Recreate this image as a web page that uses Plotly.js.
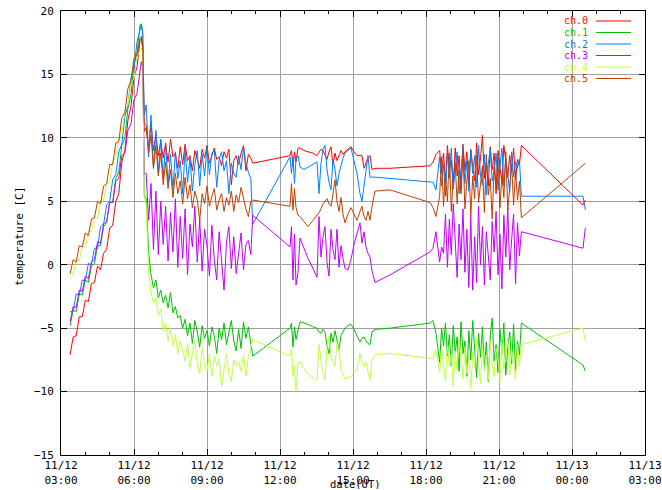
<!DOCTYPE html>
<html>
<head>
<meta charset="utf-8">
<script src="https://cdn.plot.ly/plotly-3.0.1.min.js"></script>
<style>
html,body{margin:0;padding:0;background:#fff;}
#chart{width:662px;height:490px;}
</style>
</head>
<body>
<div id="chart"></div>
<script>
// time of each sample, hours since 11/12 00:00 (UT)
const hours = [
  // warm-up ramp
  3.375,3.5,3.625,3.75,3.875,4.0,4.125,4.25,4.375,4.5,4.625,4.75,4.875,5.0,5.125,5.25,5.375,5.5,5.625,5.75,5.875,6.0,6.125,6.25,
  // peak and drop
  6.30,6.36,6.42,
  // dense decay
  6.5,6.6,6.7,6.8,6.9,7.0,7.1,7.2,7.3,7.4,7.5,7.6,7.7,7.8,7.9,8.0,8.1,8.2,8.3,8.4,8.5,8.6,8.7,8.8,8.9,9.0,9.1,9.2,9.3,9.4,9.5,9.6,9.7,9.8,9.9,10.0,10.1,10.2,10.3,10.4,10.5,10.6,10.7,10.8,
  10.88,
  // sparse midday
  12.411,12.473,12.534,12.596,12.658,12.740,12.822,12.986,13.151,13.356,13.521,13.603,13.685,13.767,13.849,13.932,14.014,14.096,14.178,14.260,14.342,14.425,14.507,14.589,14.671,14.795,14.918,15.041,15.164,15.288,15.370,15.452,15.534,15.616,15.699,15.781,15.904,16.521,18.164,
  18.29,18.41,
  // dense evening
  18.56,18.64,18.72,18.80,18.88,18.96,19.04,19.12,19.20,19.28,19.36,19.44,19.52,19.60,19.68,19.76,19.84,19.92,20.00,20.08,20.16,20.24,20.32,20.40,20.48,20.56,20.64,20.72,20.80,20.88,20.96,21.04,21.12,21.20,21.28,21.36,21.44,21.52,21.60,21.68,21.76,21.84,21.92,
  // last samples
  24.45,24.55
];

const ch0 = [
  -7.1,-5.7,-5.6,-4.1,-4.1,-2.8,-2.9,-1.5,-1.4,-0.1,-0.4,0.9,1.2,2.9,3.1,5.0,5.6,8.1,9.0,11.4,12.5,14.8,15.6,17.7,
  17.8,17.0,10.5,
  10.8,9.2,11.2,9.0,10.3,8.6,9.8,8.4,9.6,8.1,9.9,8.5,8.8,7.6,9.3,7.9,9.5,8.2,8.6,7.4,9.0,8.3,7.6,9.1,8.4,9.4,8.0,8.6,9.2,8.3,8.5,7.8,8.9,8.4,9.1,6.3,8.2,8.6,7.9,8.8,9.4,7.4,8.7,8.4,
  8.0,
  8.6,9.0,7.7,8.9,8.1,9.2,9.2,9.0,8.9,8.8,8.6,8.9,9.1,9.0,8.6,8.3,8.9,9.3,7.9,8.8,8.2,8.7,9.0,8.7,8.9,9.1,9.3,8.9,8.6,8.6,8.6,7.6,8.0,8.4,8.6,7.5,7.6,7.6,7.8,
  8.1,8.7,
  9.0,7.2,8.8,6.5,9.4,7.6,8.2,6.0,9.2,7.0,8.6,5.8,9.5,7.4,8.9,6.3,9.1,7.8,6.6,9.6,7.1,8.4,10.2,6.8,8.0,6.2,9.3,7.5,8.8,5.6,9.0,7.7,6.4,9.4,8.1,6.9,8.6,7.3,9.2,6.7,8.3,7.9,9.4,
  4.7,5.1
];
const ch1 = [
  -4.8,-3.6,-3.7,-2.3,-2.4,-1.2,-1.4,-0.1,0.1,1.5,1.5,3.0,3.3,4.9,4.9,6.8,7.3,9.4,10.0,12.3,13.4,15.8,16.7,18.9,
  19.0,18.4,5.5,
  5.2,1.0,-0.8,-1.8,-1.2,-2.6,-2.0,-3.0,-2.4,-3.4,-2.2,-3.8,-3.3,-4.2,-4.0,-5.0,-4.3,-5.6,-4.6,-6.2,-4.4,-5.3,-6.5,-4.8,-5.8,-5.2,-6.4,-4.9,-5.6,-7.0,-5.0,-5.9,-4.6,-6.3,-5.2,-4.4,-6.0,-6.8,-5.1,-6.6,-4.5,-5.8,-4.9,-6.2,
  -7.2,
  -5.0,-4.6,-6.5,-4.9,-5.9,-5.2,-4.5,-4.6,-4.7,-4.9,-5.0,-5.3,-5.4,-5.1,-5.3,-6.4,-7.0,-5.4,-6.1,-5.2,-6.0,-6.7,-5.6,-5.3,-5.0,-4.8,-4.7,-5.1,-5.6,-6.1,-5.8,-5.7,-6.0,-6.2,-6.3,-5.3,-5.1,-5.0,-4.6,
  -4.4,-5.4,
  -7.7,-5.0,-6.4,-4.6,-7.2,-5.5,-8.0,-4.8,-6.9,-5.7,-8.4,-4.5,-7.0,-6.0,-8.8,-5.2,-7.5,-4.4,-6.6,-8.9,-5.4,-7.3,-4.9,-8.2,-6.1,-9.2,-5.6,-4.2,-7.6,-6.3,-8.5,-5.1,-7.0,-4.6,-8.7,-6.4,-5.3,-7.8,-4.7,-8.3,-6.0,-7.1,-4.6,
  -7.9,-8.4
];
const ch2 = [
  -3.7,-3.7,-2.3,-2.4,-1.2,-1.3,0.1,0.0,1.3,1.3,3.0,3.2,4.7,5.0,6.7,7.1,8.9,9.5,11.7,12.5,14.7,15.4,17.6,18.6,
  18.9,18.1,11.8,
  12.6,8.5,11.8,7.6,10.6,7.2,9.9,6.8,9.5,6.4,8.7,5.9,8.9,6.8,8.2,5.6,9.1,6.5,8.4,5.8,7.9,9.0,6.2,8.7,7.0,9.2,7.1,8.8,9.0,6.1,8.3,8.9,7.4,8.2,5.6,8.0,7.2,6.9,8.6,7.5,9.3,8.0,7.3,6.8,
  3.2,
  8.5,7.2,8.5,6.4,8.3,8.6,7.7,7.5,7.7,7.9,8.1,5.6,8.0,9.1,9.4,7.5,6.5,5.9,8.3,7.5,6.2,7.2,7.9,8.4,8.8,9.0,9.2,8.2,7.2,5.6,5.0,6.2,7.5,8.6,6.9,6.9,6.9,6.8,6.5,
  6.5,5.9,
  8.5,6.2,7.9,5.4,8.8,6.8,9.2,6.0,7.6,8.9,5.6,7.8,9.3,6.4,8.2,5.8,9.0,7.2,8.6,6.1,9.4,7.0,6.3,8.7,5.5,8.0,9.1,6.6,7.4,8.8,5.9,7.7,9.2,6.2,8.4,7.1,5.7,8.9,6.9,8.1,7.6,8.3,5.4,
  5.4,4.3
];
const ch3 = [
  -4.5,-3.3,-3.4,-2.0,-2.1,-0.9,-1.1,0.2,0.4,1.8,1.7,3.2,3.4,4.9,4.9,6.6,6.8,8.6,8.8,10.6,11.1,13.0,13.5,15.5,
  16.0,15.5,7.2,
  7.2,3.5,6.4,1.2,5.8,0.8,5.0,1.6,4.6,0.3,4.1,1.0,5.2,-0.2,3.8,0.5,4.4,-0.8,3.2,1.4,4.6,0.2,3.6,-0.5,2.8,1.5,-0.9,3.1,0.4,-1.2,2.6,0.0,-2.0,1.8,3.0,-0.3,2.2,-0.7,1.0,2.5,-0.4,1.6,1.9,0.8,
  3.9,
  1.4,3.0,-1.2,2.4,-1.6,-0.6,2.1,1.3,0.5,-0.3,-1.0,3.8,0.6,2.2,3.0,0.2,-0.9,2.8,1.2,0.4,2.8,-0.2,1.5,0.5,-0.3,-0.4,0.4,1.6,2.5,3.3,1.7,2.6,1.4,0.9,0.6,-0.5,-1.4,-0.8,1.0,
  1.3,2.6,
  0.2,1.4,0.9,4.0,-0.2,3.6,0.8,4.8,1.5,-1.0,3.2,0.4,4.4,-0.6,2.8,-1.8,3.8,-2.0,2.2,-1.4,4.6,0.0,3.0,-1.6,2.6,0.5,-1.2,3.4,1.0,4.2,-0.8,2.4,-1.9,3.9,0.6,4.5,-0.4,2.0,4.0,-1.5,3.3,0.7,2.6,
  1.3,2.9
];
const ch4 = [
  -0.7,-0.8,0.5,0.3,1.5,1.3,2.7,2.6,3.8,3.6,5.1,5.1,6.4,6.5,8.2,8.4,10.0,10.3,12.2,12.6,14.3,14.7,16.4,17.0,
  17.1,16.6,5.2,
  4.8,-0.5,-2.2,-3.0,-2.6,-4.0,-3.5,-5.2,-4.6,-6.0,-5.0,-6.4,-5.5,-7.0,-6.0,-6.8,-7.6,-6.2,-8.2,-7.0,-6.0,-7.8,-8.6,-6.5,-7.9,-8.4,-7.0,-8.8,-7.2,-8.0,-7.4,-9.6,-8.2,-7.0,-8.6,-9.2,-7.5,-8.0,-7.6,-8.4,-7.1,-8.8,-7.2,-6.6,
  -5.9,
  -7.2,-6.6,-8.8,-8.0,-10.0,-7.7,-7.6,-8.2,-8.6,-8.9,-9.1,-6.3,-7.6,-8.4,-9.1,-6.5,-5.6,-7.3,-7.7,-8.0,-6.2,-6.5,-8.3,-8.7,-9.0,-8.9,-8.8,-8.5,-8.3,-7.0,-7.7,-8.0,-7.7,-8.4,-9.1,-7.5,-7.1,-7.0,-7.4,
  -7.4,-6.7,
  -8.5,-6.6,-7.8,-9.2,-6.2,-8.0,-7.0,-9.6,-6.8,-8.3,-5.9,-7.6,-9.0,-6.5,-8.6,-7.2,-9.8,-6.9,-8.1,-5.8,-7.5,-9.4,-6.4,-8.4,-7.1,-9.1,-6.0,-7.9,-8.8,-6.6,-7.3,-9.3,-6.1,-8.2,-7.4,-5.7,-8.7,-6.8,-7.7,-9.0,-6.3,-8.0,-6.3,
  -5.0,-6.0
];
const ch5 = [
  -0.7,0.4,0.2,1.5,1.4,2.5,2.3,3.6,3.7,5.0,4.8,6.2,6.4,7.9,7.9,9.6,9.7,11.6,12.0,13.9,14.5,16.3,16.5,17.9,
  18.0,17.2,11.2,
  11.0,8.8,10.2,7.6,9.4,7.0,8.8,6.3,8.1,6.0,7.5,5.3,7.2,5.6,6.6,4.8,6.9,5.2,6.3,4.5,5.8,5.1,3.5,5.6,4.8,6.2,4.6,5.4,6.0,4.3,5.1,5.6,4.2,5.3,4.7,5.8,4.2,5.5,4.9,6.1,5.1,4.4,3.8,5.0,
  5.1,
  4.6,6.4,4.3,6.0,4.5,3.9,3.8,3.4,3.0,3.5,3.9,4.1,4.4,4.8,5.0,5.2,4.8,4.6,5.6,6.7,5.0,4.2,5.3,4.0,3.3,4.0,4.5,4.0,3.5,4.2,4.6,3.8,3.5,4.2,3.5,4.6,5.8,5.9,4.9,
  4.5,3.8,
  5.4,8.5,4.6,7.2,5.0,8.8,4.2,6.9,8.0,4.8,7.5,5.6,8.9,4.4,6.6,8.2,3.8,7.0,5.2,8.6,4.9,6.4,7.8,4.1,8.7,5.5,6.8,3.6,7.7,5.9,8.4,4.5,7.1,5.3,8.9,4.3,6.2,7.9,4.7,7.4,5.1,6.6,3.7,
  7.9,8.0
];

const channelNames = ["ch.0","ch.1","ch.2","ch.3","ch.4","ch.5"];
const channelColors = ["#ff0000","#00c000","#0080ff","#c000ff","#c0ff40","#c04000"];
const series = [ch0,ch1,ch2,ch3,ch4,ch5];

const xTickVals = [3,6,9,12,15,18,21,24,27];
const xTickText = ["11/12<br>03:00","11/12<br>06:00","11/12<br>09:00","11/12<br>12:00","11/12<br>15:00","11/12<br>18:00","11/12<br>21:00","11/13<br>00:00","11/13<br>03:00"];
const yTickVals = [-15,-10,-5,0,5,10,15,20];

const FONT = "DejaVu Sans Mono, Liberation Mono, monospace";

const traces = series.map((ys,i)=>({
  x: hours, y: ys, type:"scatter", mode:"lines", name: channelNames[i],
  line:{color:channelColors[i], width:1}, hoverinfo:"skip"
}));

// legend drawn gnuplot-style: label then line sample
const L = 61, R = 645, T = 11, B = 455;
const px2x = p => (p-L)/(R-L);
const py2y = p => (B-p)/(B-T);
const LEG_Y0 = 21, LEG_STEP = 11.5;
const annotations = [];
const shapes = [];
channelNames.forEach((n,i)=>{
  const py = LEG_Y0 + i*LEG_STEP;
  annotations.push({xref:"paper",yref:"paper",x:px2x(589),y:py2y(py),xanchor:"right",yanchor:"middle",
    text:n,showarrow:false,height:11,valign:"middle",borderpad:0,
    font:{family:FONT,size:10,color:channelColors[i]}});
  shapes.push({type:"line",xref:"paper",yref:"paper",x0:px2x(596),x1:px2x(631),y0:py2y(py),y1:py2y(py),
    line:{color:channelColors[i],width:1}});
});
annotations.push({xref:"paper",yref:"paper",x:px2x(355),y:py2y(484.5),xanchor:"center",yanchor:"middle",
  text:"date(UT)",showarrow:false,borderpad:0,height:10,valign:"middle",font:{family:FONT,size:10.5,color:"#000"}});
annotations.push({xref:"paper",yref:"paper",x:px2x(19),y:py2y(237),xanchor:"center",yanchor:"middle",
  text:"temperature [C]",textangle:-90,showarrow:false,font:{family:FONT,size:11,color:"#000"}});

const layout = {
  width:662, height:490,
  margin:{l:L, r:662-R, t:T, b:490-B},
  paper_bgcolor:"#fff", plot_bgcolor:"#fff",
  showlegend:false,
  font:{family:FONT,size:11,color:"#000"},
  xaxis:{
    range:[3,27], tickmode:"array", tickvals:xTickVals, ticktext:xTickText,
    ticks:"inside", ticklen:6, tickcolor:"#000", tickwidth:1,
    showline:true, linecolor:"#000", linewidth:1, mirror:"ticks",
    showgrid:true, gridcolor:"#a0a0a0", gridwidth:1, zeroline:false,
    minor:{tickmode:"linear", tick0:3, dtick:1, ticks:"inside", ticklen:3, tickcolor:"#000", showgrid:false},
    tickfont:{family:FONT,size:11,color:"#000"}, fixedrange:true
  },
  yaxis:{
    range:[-15,20], tickmode:"array", tickvals:yTickVals,
    ticks:"inside", ticklen:6, tickcolor:"#000", tickwidth:1,
    showline:true, linecolor:"#000", linewidth:1, mirror:"ticks",
    showgrid:true, gridcolor:"#a0a0a0", gridwidth:1, zeroline:false,
    ticklabelstandoff:4,
    tickfont:{family:FONT,size:11,color:"#000"}, fixedrange:true
  },
  annotations, shapes
};

Plotly.newPlot("chart", traces, layout, {staticPlot:true, displayModeBar:false});
</script>
</body>
</html>
